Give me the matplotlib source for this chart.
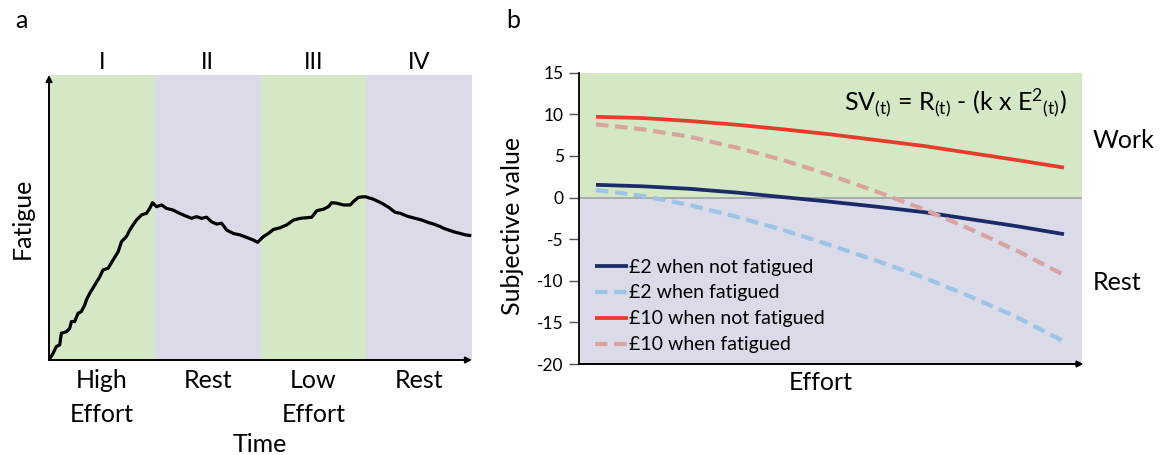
import matplotlib
matplotlib.use("Agg")
import matplotlib.pyplot as plt

plt.rcParams['font.family'] = ['Lato', 'DejaVu Sans']
plt.rcParams['mathtext.fontset'] = 'custom'
plt.rcParams['mathtext.rm'] = 'Lato'
plt.rcParams['mathtext.it'] = 'Lato:italic'
plt.rcParams['mathtext.bf'] = 'Lato:bold'
plt.rcParams['axes.unicode_minus'] = False

W, H = 1161, 455

# panel a: fatigue over time, four phases
phase_numerals = ['I', 'II', 'III', 'IV']
phase_top = ['High', 'Rest', 'Low', 'Rest']
phase_bottom = ['Effort', '', 'Effort', '']
time = [0, 0.038, 0.069, 0.101, 0.117, 0.164, 0.196, 0.212, 0.243, 0.275,
        0.306, 0.338, 0.354, 0.385, 0.433, 0.480, 0.511, 0.559, 0.606, 0.654,
        0.685, 0.732, 0.764, 0.795, 0.827, 0.875, 0.922, 0.953, 0.979,
        1.017, 1.064, 1.111, 1.174, 1.222, 1.269, 1.348, 1.395, 1.443, 1.490,
        1.537, 1.585, 1.632, 1.680, 1.743, 1.806, 1.869, 1.932, 1.973,
        2.027, 2.074, 2.122, 2.185, 2.248, 2.311, 2.374, 2.485, 2.532, 2.595,
        2.642, 2.674, 2.721, 2.785, 2.848, 2.879, 2.927, 2.990,
        3.069, 3.148, 3.211, 3.274, 3.321, 3.384, 3.463, 3.526, 3.590, 3.637,
        3.700, 3.732, 3.779, 3.826, 3.889, 3.937, 3.978]
fatigue = [0, 0.023, 0.047, 0.053, 0.094, 0.099, 0.111, 0.135, 0.135, 0.164,
           0.170, 0.193, 0.211, 0.234, 0.263, 0.292, 0.316, 0.322, 0.351, 0.380,
           0.415, 0.433, 0.456, 0.474, 0.491, 0.509, 0.515, 0.532, 0.552,
           0.538, 0.544, 0.532, 0.526, 0.517, 0.509, 0.497, 0.503, 0.497, 0.501,
           0.485, 0.477, 0.480, 0.456, 0.444, 0.439, 0.430, 0.421, 0.413,
           0.433, 0.444, 0.458, 0.464, 0.474, 0.491, 0.497, 0.501, 0.524, 0.529,
           0.538, 0.552, 0.550, 0.544, 0.544, 0.556, 0.571, 0.573,
           0.564, 0.550, 0.536, 0.518, 0.515, 0.505, 0.497, 0.491, 0.482, 0.477,
           0.468, 0.462, 0.456, 0.450, 0.444, 0.439, 0.437]

# panel b: subjective value against effort
effort = [0, 0.1, 0.2, 0.3, 0.4, 0.5, 0.6, 0.7, 0.8, 0.9, 1.0]
sv_2_fresh = [1.53, 1.35, 1.05, 0.6, 0.05, -0.5, -1.1, -1.75, -2.6, -3.45, -4.4]
sv_2_tired = [0.9, 0.2, -0.9, -2.3, -3.9, -5.7, -7.6, -9.6, -11.9, -14.4, -17.3]
sv_10_fresh = [9.7, 9.55, 9.2, 8.75, 8.2, 7.6, 6.9, 6.2, 5.35, 4.5, 3.6]
sv_10_tired = [8.8, 8.2, 7.3, 6.0, 4.5, 2.7, 0.7, -1.4, -3.8, -6.4, -9.3]
series_labels = ['£2 when not fatigued', '£2 when fatigued',
                 '£10 when not fatigued', '£10 when fatigued']

GREEN = '#d5e8c5'
LAV = '#dadae8'
cols = ['#1b2a68', '#9dc3e6', '#ea3a2b', '#d9a4a0']


def px(x, y):
    return x / W, 1 - y / H


fig = plt.figure(figsize=(W / 100, H / 100), dpi=100)

# ---- panel a ----
ax1 = fig.add_axes([49 / W, 1 - 360 / H, 423 / W, 285 / H])
for i in range(4):
    ax1.axvspan(i, i + 1, color=GREEN if i % 2 == 0 else LAV, lw=0)
ax1.plot(time, fatigue, color='black', lw=2.3, solid_joinstyle='round')
ax1.set_xlim(0, 4)
ax1.set_ylim(0, 1)
ax1.set_xticks([])
ax1.set_yticks([])
for s in ax1.spines.values():
    s.set_visible(False)
arr = dict(arrowstyle='-|>', lw=1.4, color='black', mutation_scale=9,
           shrinkA=0, shrinkB=0)
ax1.annotate('', xy=(0, 1.0), xytext=(0, 0), xycoords='axes fraction',
             arrowprops=arr, annotation_clip=False)
ax1.annotate('', xy=(1.0, 0), xytext=(0, 0), xycoords='axes fraction',
             arrowprops=arr, annotation_clip=False)
tr = ax1.get_xaxis_transform()
for i in range(4):
    xc = i + 0.5
    ax1.text(xc, (360 - 69) / 285, phase_numerals[i], transform=tr,
             ha='center', va='baseline', fontsize=17)
    ax1.text(xc, (360 - 388) / 285, phase_top[i], transform=tr,
             ha='center', va='baseline', fontsize=18)
    ax1.text(xc, (360 - 422) / 285, phase_bottom[i], transform=tr,
             ha='center', va='baseline', fontsize=18)
fig.text(*px(260, 452), 'Time', ha='center', va='baseline', fontsize=18)
fig.text(*px(22, 218), 'Fatigue', ha='center', va='center', rotation=90,
         fontsize=18)
fig.text(*px(15, 28), 'a', ha='left', va='baseline', fontsize=18)

# ---- panel b ----
ax2 = fig.add_axes([579 / W, 1 - 364 / H, 503 / W, 291.3 / H])
ax2.axhspan(0, 15, color=GREEN, lw=0)
ax2.axhspan(-20, 0, color=LAV, lw=0)
ax2.axhline(0, color='#a8a8a8', lw=1.3)
series = [sv_2_fresh, sv_2_tired, sv_10_fresh, sv_10_tired]
for k, vals in enumerate(series):
    if k % 2 == 0:
        ax2.plot(effort, vals, color=cols[k], lw=2.7, label=series_labels[k],
                 solid_capstyle='butt')
    else:
        ax2.plot(effort, vals, color=cols[k], lw=3.0, label=series_labels[k],
                 dashes=(3.0, 1.6))
ax2.set_xlim(-0.0363, 1.0385)
ax2.set_ylim(-20, 15)
ax2.set_yticks(range(-20, 16, 5))
ax2.set_xticks([])
ax2.tick_params(axis='y', length=7, width=1, color='#555555', labelsize=12.5,
                pad=4)
for name in ['top', 'right', 'bottom']:
    ax2.spines[name].set_visible(False)
ax2.spines['left'].set_linewidth(1.3)
ax2.annotate('', xy=(1.003, 0), xytext=(0, 0), xycoords='axes fraction',
             arrowprops=arr, annotation_clip=False)
ax2.legend(loc='upper left', bbox_to_anchor=(0.0318, 0.362), frameon=False,
           fontsize=14, handlelength=1.7, handletextpad=0.05,
           labelspacing=0.46, borderpad=0, borderaxespad=0)

fig.text(*px(1067, 110),
         r'SV$_{\mathregular{(t)}}$ = R$_{\mathregular{(t)}}$ - (k x E$^{\mathregular{2}}{}_{\mathregular{(t)}}$)',
         ha='right', va='baseline', fontsize=18)
fig.text(*px(1093, 140), 'Work', ha='left', va='center', fontsize=18)
fig.text(*px(1093, 283), 'Rest', ha='left', va='center', fontsize=18)
fig.text(*px(821, 383), 'Effort', ha='center', va='center', fontsize=18)
fig.text(*px(513, 226), 'Subjective value', ha='center', va='center',
         rotation=90, fontsize=18)
fig.text(*px(506, 28), 'b', ha='left', va='baseline', fontsize=18)

fig.savefig('out.png', dpi=100)
